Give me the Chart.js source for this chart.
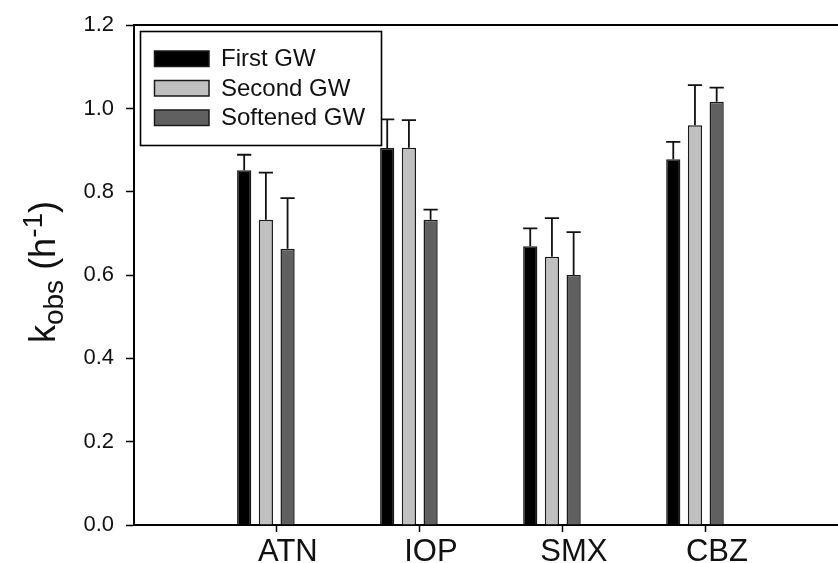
<!DOCTYPE html>
<html><head><meta charset="utf-8">
<script src="https://cdn.jsdelivr.net/npm/chart.js@4.4.1/dist/chart.umd.min.js"></script>
<style>html,body{margin:0;padding:0;background:#fff;overflow:hidden}#wrap{width:838px;height:563px;position:relative}</style>
</head><body><div id="wrap"><canvas id="c" width="838" height="563"></canvas></div>
<script>
const categories = ['ATN', 'IOP', 'SMX', 'CBZ'];
const seriesNames = ['First GW', 'Second GW', 'Softened GW'];
const firstGW = [0.852, 0.905, 0.669, 0.878];
const firstGWErr = [0.037, 0.069, 0.043, 0.042];
const secondGW = [0.733, 0.906, 0.644, 0.960];
const secondGWErr = [0.113, 0.066, 0.093, 0.096];
const softenedGW = [0.663, 0.733, 0.600, 1.016];
const softenedGWErr = [0.122, 0.024, 0.103, 0.034];
const yTicks = [0, 0.2, 0.4, 0.6, 0.8, 1.0, 1.2];

const FONT = '"Liberation Sans", Arial, sans-serif';
const colors = ['#000000', '#c0c0c0', '#606060'];
const tickShift = 0.077;

function toPoints(arr) { return arr.map((v, i) => ({ x: i + 1, y: v })); }

const seriesVals = [firstGW, secondGW, softenedGW];
const seriesErrs = [firstGWErr, secondGWErr, softenedGWErr];

const datasets = seriesNames.map((name, k) => ({
  label: name,
  data: toPoints(seriesVals[k]),
  errors: seriesErrs[k],
  backgroundColor: colors[k],
  borderColor: '#1a1a1a',
  borderWidth: 1.5,
  categoryPercentage: 0.455,
  barPercentage: 0.655
}));

const errorBars = {
  id: 'errorBars',
  afterDatasetsDraw(chart) {
    const ctx = chart.ctx;
    const ys = chart.scales.y;
    ctx.save();
    ctx.strokeStyle = '#111';
    ctx.lineWidth = 1.8;
    chart.data.datasets.forEach((ds, di) => {
      const meta = chart.getDatasetMeta(di);
      meta.data.forEach((bar, i) => {
        const v = ds.data[i].y, e = ds.errors[i];
        const top = ys.getPixelForValue(v + e);
        const half = bar.width / 2;
        ctx.beginPath();
        ctx.moveTo(bar.x, bar.y);
        ctx.lineTo(bar.x, top);
        ctx.moveTo(bar.x - half, top);
        ctx.lineTo(bar.x + half, top);
        ctx.stroke();
      });
    });
    ctx.restore();
  }
};

const frameAndLegend = {
  id: 'frameAndLegend',
  afterDraw(chart) {
    const ctx = chart.ctx;
    const a = chart.chartArea;
    ctx.save();
    ctx.strokeStyle = '#000';
    ctx.lineWidth = 2;
    ctx.beginPath();
    ctx.moveTo(a.left, Math.round(a.top));
    ctx.lineTo(chart.width, Math.round(a.top));
    ctx.stroke();
    const bx = 140.5, by = 31.5, bw = 241, bh = 114;
    ctx.fillStyle = '#fff';
    ctx.fillRect(bx, by, bw, bh);
    ctx.lineWidth = 1.6;
    ctx.strokeStyle = '#000';
    ctx.strokeRect(bx, by, bw, bh);
    ctx.font = '24px ' + FONT;
    ctx.textBaseline = 'middle';
    ctx.textAlign = 'left';
    chart.data.datasets.forEach((ds, i) => {
      const sy = 51 + i * 29.5;
      ctx.fillStyle = ds.backgroundColor;
      ctx.fillRect(154.5, sy, 54.5, 15.5);
      ctx.lineWidth = 1.5;
      ctx.strokeStyle = '#1a1a1a';
      ctx.strokeRect(154.5, sy, 54.5, 15.5);
      ctx.fillStyle = '#111';
      ctx.fillText(ds.label, 221, sy + 8.5);
    });
    const F = 36, S = 28;
    const segs = [
      { t: 'k', f: F, dy: 0 },
      { t: 'obs', f: S, dy: 8 },
      { t: ' (h', f: F, dy: 0 },
      { t: '-1', f: S, dy: -13 },
      { t: ')', f: F, dy: 0 }
    ];
    let total = 0;
    segs.forEach(s => { ctx.font = s.f + 'px ' + FONT; s.w = ctx.measureText(s.t).width; total += s.w; });
    ctx.translate(55, 272);
    ctx.rotate(-Math.PI / 2);
    ctx.textBaseline = 'alphabetic';
    ctx.fillStyle = '#111';
    let x = -total / 2;
    segs.forEach(s => {
      ctx.font = s.f + 'px ' + FONT;
      ctx.fillText(s.t, x, s.dy);
      x += s.w;
    });
    ctx.restore();
  }
};

new Chart(document.getElementById('c'), {
  type: 'bar',
  data: { datasets },
  options: {
    responsive: false,
    animation: false,
    devicePixelRatio: 1,
    layout: { padding: { top: 24, left: 0, right: 0, bottom: 0 } },
    plugins: { legend: { display: false }, tooltip: { enabled: false } },
    scales: {
      x: {
        type: 'linear',
        offset: false,
        min: 0.078,
        max: 5.0,
        afterBuildTicks(scale) { scale.ticks = categories.map((c, i) => ({ value: i + 1 + tickShift })); },
        afterFit(scale) { scale.height = 38; },
        ticks: {
          callback: (v, i) => categories[i],
          font: { family: FONT, size: 31 },
          color: '#111',
          padding: 2,
          labelOffset: 11,
          maxRotation: 0,
          autoSkip: false
        },
        grid: { offset: false, drawOnChartArea: false, drawTicks: true, tickLength: 7, tickColor: '#000', tickWidth: 1.5 },
        border: { display: true, color: '#000', width: 2 }
      },
      y: {
        min: 0,
        max: 1.2,
        afterBuildTicks(scale) { scale.ticks = yTicks.map(v => ({ value: v })); },
        afterFit(scale) { scale.width = 134; },
        ticks: {
          callback: v => Number(v).toFixed(1),
          font: { family: FONT, size: 22 },
          color: '#111',
          padding: 12
        },
        grid: { drawOnChartArea: false, drawTicks: true, tickLength: 8, tickColor: '#000', tickWidth: 1.5 },
        border: { display: true, color: '#000', width: 2 }
      }
    }
  },
  plugins: [errorBars, frameAndLegend]
});
</script>
</body></html>
